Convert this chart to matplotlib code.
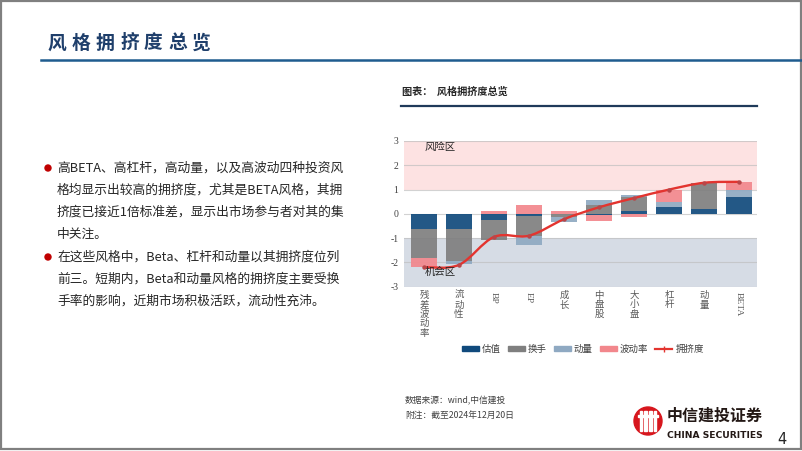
import matplotlib.pyplot as plt
import numpy as np
from matplotlib.path import Path
from matplotlib.patches import PathPatch, Patch, Circle, Rectangle
from matplotlib.lines import Line2D

plt.rcParams['font.family'] = ['Noto Sans CJK SC', 'DejaVu Sans']

# chart data
styles = ['残差波动率', '流动性', 'BP', 'EP', '成长', '中盘股', '大小盘', '杠杆', '动量', 'BETA']
valuation = [-0.62, -0.62, -0.25, -0.07, -0.02, -0.05, 0.12, 0.28, 0.18, 0.68]
turnover = [-1.20, -1.31, -0.83, -0.83, -0.12, 0.35, 0.58, 0.00, 1.08, 0.00]
momentum = [0.00, -0.15, 0.00, -0.37, -0.18, 0.22, 0.08, 0.22, 0.00, 0.30]
volatility = [-0.37, 0.00, 0.12, 0.37, 0.10, -0.25, -0.13, 0.50, 0.02, 0.34]
crowding = [-2.20, -2.10, -0.95, -0.90, -0.22, 0.27, 0.65, 1.00, 1.28, 1.32]

component_names = ['估值', '换手', '动量', '波动率']
component_colors = ['#104A7C', '#7F7F7F', '#8FA9C2', '#F2878C']

bullet1 = ['高BETA、高杠杆，高动量，以及高波动四种投资风',
           '格均显示出较高的拥挤度，尤其是BETA风格，其拥',
           '挤度已接近1倍标准差，显示出市场参与者对其的集',
           '中关注。']
bullet2 = ['在这些风格中，Beta、杠杆和动量以其拥挤度位列',
           '前三。短期内，Beta和动量风格的拥挤度主要受换',
           '手率的影响，近期市场积极活跃，流动性充沛。']

W, H = 802, 451
fig = plt.figure(figsize=(W / 100, H / 100), dpi=100)


def fx(x):
    return x / W


def fy(y):
    return 1 - y / H


# slide frame
frame = fig.add_axes([0, 0, 1, 1], zorder=-5)
frame.set_xlim(0, W)
frame.set_ylim(H, 0)
frame.axis('off')
frame.add_patch(Rectangle((1, 1), W - 2, H - 3, fill=False, ec='#808080', lw=1.6))

# title
title = '风格拥挤度总览'
for i, ch in enumerate(title):
    fig.text(fx(48 + i * 24), fy(43), ch, fontsize=13.5, color='#1F3F6B',
             ha='left', va='center', fontweight='bold')
frame.plot([41, W], [59.5, 59.5], color='#1F5C8F', lw=1.8)

# left text
for k, (lines, y0) in enumerate([(bullet1, 168), (bullet2, 257)]):
    frame.add_patch(Circle((48, y0), 3.0, color='#C00000'))
    for j, line in enumerate(lines):
        fig.text(fx(57), fy(y0 + j * 22), line, fontsize=9.2, color='#262626',
                 ha='left', va='center')

# chart header
fig.text(fx(402), fy(92), '图表：  风格拥挤度总览', fontsize=7.3, fontweight='bold',
         color='#262626', ha='left', va='center')
frame.plot([401, 757], [105.5, 105.5], color='#1F3A5A', lw=1.6)

# main chart
ax = fig.add_axes([fx(404), fy(286.7), fx(757 - 404), (286.7 - 141) / H])
ax.axhspan(1, 3, color='#FDE2E2', zorder=0, lw=0)
ax.axhspan(-3, -1, color='#D6DCE5', zorder=0, lw=0)
for yv in range(-3, 4):
    ax.axhline(yv, color='#BFBFBF', lw=0.8, alpha=0.7, zorder=1)

x = np.arange(len(styles))
pos_bottom = np.zeros(len(styles))
neg_bottom = np.zeros(len(styles))
for vals, color, name in zip([valuation, turnover, momentum, volatility],
                             component_colors, component_names):
    vals = np.array(vals)
    bottom = np.where(vals >= 0, pos_bottom, neg_bottom)
    ax.bar(x, vals, 0.75, bottom=bottom, color=color, zorder=2, lw=0, alpha=0.92)
    pos_bottom += np.where(vals > 0, vals, 0)
    neg_bottom += np.where(vals < 0, vals, 0)

# smoothed crowding line (Catmull-Rom style bezier through the points)
pts = np.column_stack([x, crowding]).astype(float)
ext = np.vstack([pts[0], pts, pts[-1]])
verts = [tuple(pts[0])]
codes = [Path.MOVETO]
for i in range(len(pts) - 1):
    p0, p1, p2, p3 = ext[i], ext[i + 1], ext[i + 2], ext[i + 3]
    c1 = p1 + (p2 - p0) / 6
    c2 = p2 - (p3 - p1) / 6
    verts += [tuple(c1), tuple(c2), tuple(p2)]
    codes += [Path.CURVE4] * 3
ax.add_patch(PathPatch(Path(verts, codes), fc='none', ec='#E3342F', lw=1.7, zorder=3))
ax.plot(x, crowding, ls='none', marker='o', ms=2.2, color='#B8474A', zorder=4)

ax.set_xlim(-0.57, 9.51)
ax.set_ylim(-3, 3)
ax.set_yticks(range(-3, 4))
ax.set_yticklabels([str(v) for v in range(-3, 4)], family='Liberation Serif',
                   fontsize=7, color='#404040')
ax.tick_params(axis='y', length=0, pad=4)
ax.set_xticks([])
for s in ax.spines.values():
    s.set_visible(False)

ax.text(0.02, 2.75, '风险区', fontsize=7.5, color='#262626', ha='left', va='center')
ax.text(0.01, -2.4, '机会区', fontsize=7.5, color='#262626', ha='left', va='center')

for i, name in enumerate(styles):
    if name.isascii():
        ax.text(i, -3.22, name, rotation=-90, ha='center', va='top', fontsize=6.8,
                color='#595959', family='Liberation Serif')
    else:
        ax.text(i, -3.18, '\n'.join(name), ha='center', va='top', fontsize=6.8,
                color='#595959', linespacing=1.05)

handles = [Patch(color=c) for c in component_colors]
handles.append(Line2D([0], [0], color='#E3342F', lw=1.6, marker='|', ms=4))
fig.legend(handles, component_names + ['拥挤度'], loc='center',
           bbox_to_anchor=(fx(583), fy(349)), ncol=5, frameon=False, fontsize=6.8,
           handlelength=1.8, handleheight=0.45, handletextpad=0.3, columnspacing=0.75,
           labelcolor='#404040')

# source
fig.text(fx(405), fy(401), '数据来源：wind,中信建投', fontsize=6.3, color='#404040',
         ha='left', va='center', style='italic')
fig.text(fx(405), fy(416), '附注：截至2024年12月20日', fontsize=6.3, color='#404040',
         ha='left', va='center', style='italic')

# logo
cx, cy = 648, 421
frame.add_patch(Circle((cx, cy), 14, color='#D7161D'))
for dx in (-7, -2.5, 2.5, 7):
    frame.add_patch(Rectangle((cx + dx - 1.1, cy - 10), 2.2, 20, color='white'))
frame.add_patch(Rectangle((cx - 10, cy - 6), 20, 2, color='white'))
fig.text(fx(667), fy(416), '中信建投证券', fontsize=11.5, fontweight='bold',
         color='#231815', ha='left', va='center')
fig.text(fx(667), fy(435), 'CHINA SECURITIES', fontsize=6.6, fontweight='bold',
         color='#231815', ha='left', va='center', family='DejaVu Sans')
fig.text(fx(782), fy(439), '4', fontsize=10.5, color='#262626', ha='center', va='center',
         family='DejaVu Sans')

fig.savefig('out.png', dpi=100)
